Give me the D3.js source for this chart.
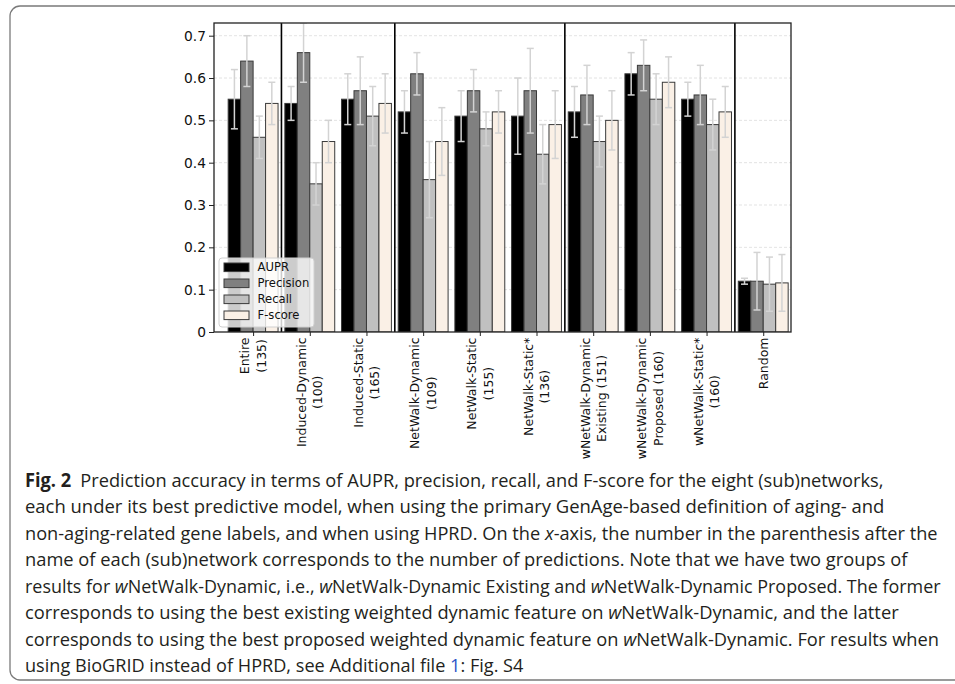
<!DOCTYPE html>
<html>
<head>
<meta charset="utf-8">
<script src="https://cdn.jsdelivr.net/npm/d3@7"></script>
<style>
  html, body { margin: 0; padding: 0; background: #fff; }
  svg { display: block; }
</style>
</head>
<body>
<svg id="chart" width="955" height="684"></svg>
<script>
// ---------- data ----------
const categories = [
  "Entire\n(135)",
  "Induced-Dynamic\n(100)",
  "Induced-Static\n(165)",
  "NetWalk-Dynamic\n(109)",
  "NetWalk-Static\n(155)",
  "NetWalk-Static*\n(136)",
  "wNetWalk-Dynamic\nExisting (151)",
  "wNetWalk-Dynamic\nProposed (160)",
  "wNetWalk-Static*\n(160)",
  "Random"
];
const seriesNames = ["AUPR", "Precision", "Recall", "F-score"];
const aupr      = [0.55, 0.54, 0.55, 0.52, 0.51, 0.51, 0.52, 0.61, 0.55, 0.120];
const precision = [0.64, 0.66, 0.57, 0.61, 0.57, 0.57, 0.56, 0.63, 0.56, 0.120];
const recall    = [0.46, 0.35, 0.51, 0.36, 0.48, 0.42, 0.45, 0.55, 0.49, 0.113];
const fscore    = [0.54, 0.45, 0.54, 0.45, 0.52, 0.49, 0.50, 0.59, 0.52, 0.116];
const auprErr      = [0.07, 0.04, 0.06, 0.05, 0.06, 0.09, 0.06, 0.05, 0.04, 0.007];
const precisionErr = [0.06, 0.07, 0.08, 0.05, 0.05, 0.10, 0.07, 0.06, 0.07, 0.068];
const recallErr    = [0.05, 0.05, 0.07, 0.09, 0.04, 0.07, 0.06, 0.06, 0.06, 0.064];
const fscoreErr    = [0.05, 0.05, 0.07, 0.08, 0.05, 0.08, 0.07, 0.06, 0.06, 0.067];
const yTicks = [0, 0.1, 0.2, 0.3, 0.4, 0.5, 0.6, 0.7];
const separatorsAfter = [0, 2, 5, 8];

const captionLines = [
  [["b","Fig. 2"],["n","\u2002Prediction accuracy in terms of AUPR, precision, recall, and F-score for the eight (sub)networks,"]],
  [["n","each under its best predictive model, when using the primary GenAge-based definition of aging- and"]],
  [["n","non-aging-related gene labels, and when using HPRD. On the "],["i","x"],["n","-axis, the number in the parenthesis after the"]],
  [["n","name of each (sub)network corresponds to the number of predictions. Note that we have two groups of"]],
  [["n","results for "],["i","w"],["n","NetWalk-Dynamic, i.e., "],["i","w"],["n","NetWalk-Dynamic Existing and "],["i","w"],["n","NetWalk-Dynamic Proposed. The former"]],
  [["n","corresponds to using the best existing weighted dynamic feature on "],["i","w"],["n","NetWalk-Dynamic, and the latter"]],
  [["n","corresponds to using the best proposed weighted dynamic feature on "],["i","w"],["n","NetWalk-Dynamic. For results when"]],
  [["n","using BioGRID instead of HPRD, see Additional file "],["l","1"],["n",": Fig. S4"]]
];
const captionRightEdges = [884, 885, 938, 908, 941, 899, 940, 524];

// ---------- layout ----------
const svg = d3.select("#chart");
const plot = {left: 214, right: 791, top: 23, bottom: 332};
const values = [aupr, precision, recall, fscore];
const errors = [auprErr, precisionErr, recallErr, fscoreErr];
const colors = ["#000000", "#808080", "#c0c0c0", "#faf0e6"];

const x = d3.scaleLinear().domain([-0.69, 9.49]).range([plot.left, plot.right]);
const y = d3.scaleLinear().domain([0, 0.73]).range([plot.bottom, plot.top]);
const barW = 0.22;

// outer frame
svg.append("rect").attr("x", 10).attr("y", 6).attr("width", 960).attr("height", 674)
  .attr("rx", 10).attr("fill", "none").attr("stroke", "#7a7a7a").attr("stroke-width", 1.3);

svg.append("clipPath").attr("id", "clip").append("rect")
  .attr("x", plot.left).attr("y", plot.top)
  .attr("width", plot.right - plot.left).attr("height", plot.bottom - plot.top);

// grid
svg.append("g").selectAll("line").data(yTicks.filter(d => d > 0)).join("line")
  .attr("x1", plot.left).attr("x2", plot.right)
  .attr("y1", d => y(d)).attr("y2", d => y(d))
  .attr("stroke", "#dcdcdc").attr("stroke-width", 0.8).attr("stroke-dasharray", "3,2");

// bars
const gBars = svg.append("g").attr("clip-path", "url(#clip)");
values.forEach((vals, s) => {
  gBars.append("g").selectAll("rect").data(vals).join("rect")
    .attr("x", (d, i) => x(i - 2 * barW + s * barW))
    .attr("width", x(barW) - x(0))
    .attr("y", d => y(d))
    .attr("height", d => y(0) - y(d))
    .attr("fill", colors[s])
    .attr("stroke", "#3a3a3a").attr("stroke-width", 1);
});

// error bars
const gErr = svg.append("g").attr("clip-path", "url(#clip)")
  .attr("stroke", "#d3d3d3").attr("stroke-width", 1.5);
values.forEach((vals, s) => {
  vals.forEach((v, i) => {
    const cx = x(i - 1.5 * barW + s * barW);
    const e = errors[s][i];
    gErr.append("line").attr("x1", cx).attr("x2", cx).attr("y1", y(v - e)).attr("y2", y(v + e));
    [v - e, v + e].forEach(t => {
      gErr.append("line").attr("x1", cx - 3.5).attr("x2", cx + 3.5).attr("y1", y(t)).attr("y2", y(t));
    });
  });
});

// separators
svg.append("g").selectAll("line").data(separatorsAfter).join("line")
  .attr("x1", d => x(d + 0.5)).attr("x2", d => x(d + 0.5))
  .attr("y1", plot.top).attr("y2", plot.bottom)
  .attr("stroke", "#000").attr("stroke-width", 1.6);

// frame
svg.append("rect").attr("x", plot.left).attr("y", plot.top)
  .attr("width", plot.right - plot.left).attr("height", plot.bottom - plot.top)
  .attr("fill", "none").attr("stroke", "#222").attr("stroke-width", 1.3);

// y axis
const yAxis = svg.append("g").attr("transform", `translate(${plot.left},0)`)
  .call(d3.axisLeft(y).tickValues(yTicks).tickSize(5).tickPadding(3)
    .tickFormat(d => d === 0 ? "0" : d.toFixed(1)));
yAxis.select(".domain").remove();
yAxis.selectAll("text").attr("font-family", "DejaVu Sans").attr("font-size", 13.8).attr("fill", "#111");
yAxis.selectAll("line").attr("stroke", "#222");

// x axis ticks
const xAxis = svg.append("g").attr("transform", `translate(0,${plot.bottom})`)
  .call(d3.axisBottom(x).tickValues(d3.range(categories.length)).tickSize(4).tickFormat(""));
xAxis.select(".domain").remove();
xAxis.selectAll("line").attr("stroke", "#222");

// x labels
const gLab = svg.append("g").attr("font-family", "DejaVu Sans").attr("font-size", 12.5).attr("fill", "#111");
categories.forEach((c, i) => {
  const lines = c.split("\n");
  const g = gLab.append("g");
  const texts = lines.map((ln, k) => g.append("text")
    .attr("text-anchor", "middle").attr("dominant-baseline", "central")
    .attr("y", (k - (lines.length - 1) / 2) * 16.4).text(ln));
  const maxW = d3.max(texts, t => t.node().getComputedTextLength());
  g.attr("transform", `translate(${x(i)},${337.5 + maxW / 2}) rotate(-90)`);
});

// legend
const leg = svg.append("g");
leg.append("rect").attr("x", 219).attr("y", 258).attr("width", 95).attr("height", 69)
  .attr("rx", 3).attr("fill", "#fff").attr("fill-opacity", 0.8)
  .attr("stroke", "#d0d0d0").attr("stroke-width", 1);
seriesNames.forEach((n, s) => {
  const cy = 267.3 + s * 16;
  leg.append("rect").attr("x", 224).attr("y", cy - 4.3).attr("width", 25).attr("height", 8.6)
    .attr("fill", colors[s]).attr("stroke", "#3a3a3a").attr("stroke-width", 1);
  leg.append("text").attr("x", 257.5).attr("y", cy).attr("dominant-baseline", "central")
    .attr("font-family", "DejaVu Sans").attr("font-size", 11.6).attr("fill", "#111").text(n);
});

// caption
const cap = svg.append("g").attr("font-family", "Open Sans").attr("font-size", 19).attr("fill", "#231f20");
captionLines.forEach((parts, k) => {
  const t = cap.append("text").attr("x", 0).attr("y", 0);
  parts.forEach(([kind, str]) => {
    const ts = t.append("tspan").text(str);
    if (kind === "b") ts.attr("font-weight", "bold");
    if (kind === "i") ts.attr("font-style", "italic");
    if (kind === "l") ts.attr("fill", "#2b54c8");
  });
  const w = t.node().getComputedTextLength();
  const startX = 25;
  const sx = (captionRightEdges[k] - startX) / w;
  t.attr("transform", `translate(${startX},${486.5 + k * 26.5}) scale(${sx},1)`);
});
</script>
</body>
</html>
